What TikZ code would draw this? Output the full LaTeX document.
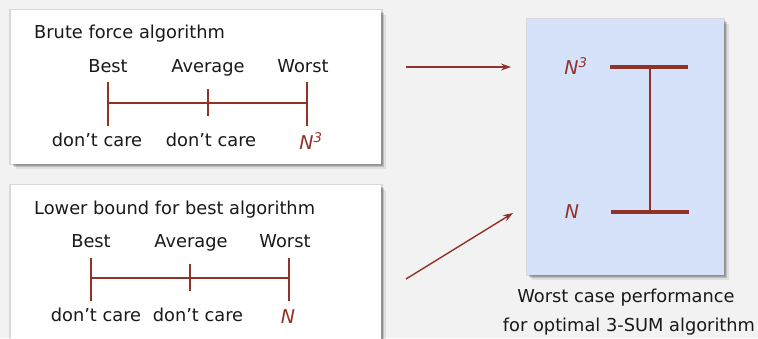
\documentclass[tikz,border=0pt]{standalone}
\usepackage{fontspec}
\setmainfont{DejaVu Sans}
\usetikzlibrary{arrows.meta,shadows}
\definecolor{bgc}{RGB}{242,242,242}
\definecolor{brick}{RGB}{145,50,40}
\definecolor{paleblue}{RGB}{214,226,250}
\tikzset{
  softshadow/.style={
    drop shadow={shadow xshift=0pt, shadow yshift=0pt, opacity=0.10, fill=black, shadow scale=1.01},
    drop shadow={shadow xshift=1.5pt, shadow yshift=-1.5pt, opacity=0.15, fill=black},
    drop shadow={shadow xshift=3pt, shadow yshift=-3pt, opacity=0.15, fill=black},
    drop shadow={shadow xshift=4.5pt, shadow yshift=-4.5pt, opacity=0.08, fill=black}},
  panel/.style={fill=white, draw=none, softshadow},
  bluepanel/.style={fill=paleblue, draw=none, softshadow},
  lbl/.style={font=\fontsize{17.8}{21}\selectfont, inner sep=0pt, text=black!90},
  head/.style={lbl, anchor=base},
  val/.style={font=\fontsize{19}{22}\selectfont\itshape, inner sep=0pt, text=brick},
  bar/.style={draw=brick, line width=2pt},
  thickbar/.style={draw=brick, line width=4pt},
  pointer/.style={draw=brick, line width=1.4pt, -{Stealth[length=10pt,width=7pt]}}
}
\begin{document}
\begin{tikzpicture}[x=1pt,y=-1pt]
\useasboundingbox (0,0) rectangle (758,338);
\fill[bgc] (0,0) rectangle (758,338);
\clip (0,0) rectangle (758,338);
% panels
\path[panel] (11,10) rectangle (381,164);
\path[panel] (11,185) rectangle (381,360);
\path[bluepanel] (527,19) rectangle (724,275);

% top panel
\node[lbl, anchor=west] (t1) at (34,34) {Brute force algorithm};
\node[head] (b1) at (108,72) {Best};
\node[head] (a1) at (208,72) {Average};
\node[head] (w1) at (303,72) {Worst};
\coordinate (l1t) at (108,82); \coordinate (l1b) at (108,126);
\coordinate (m1t) at (208,89); \coordinate (m1b) at (208,116);
\coordinate (r1t) at (307,82); \coordinate (r1b) at (307,126);
\coordinate (l1) at (108,103); \coordinate (r1) at (307,103);
\draw[bar] (l1t) -- (l1b);
\draw[bar] (m1t) -- (m1b);
\draw[bar] (r1t) -- (r1b);
\draw[bar] (l1) -- (r1);
\node[lbl] (d1a) at (97,140) {don’t care};
\node[lbl] (d1b) at (211,140) {don’t care};
\node[val] (n1) at (311,141) {N\textsuperscript{3}};

% bottom panel
\node[lbl, anchor=west] (t2) at (34,210) {Lower bound for best algorithm};
\node[head] (b2) at (91,247) {Best};
\node[head] (a2) at (191,247) {Average};
\node[head] (w2) at (285,247) {Worst};
\coordinate (l2t) at (91,258); \coordinate (l2b) at (91,301);
\coordinate (m2t) at (190,264); \coordinate (m2b) at (190,291);
\coordinate (r2t) at (289,258); \coordinate (r2b) at (289,301);
\coordinate (l2) at (91,278); \coordinate (r2) at (289,278);
\draw[bar] (l2t) -- (l2b);
\draw[bar] (m2t) -- (m2b);
\draw[bar] (r2t) -- (r2b);
\draw[bar] (l2) -- (r2);
\node[lbl] (d2a) at (96,315) {don’t care};
\node[lbl] (d2b) at (198,315) {don’t care};
\node[val] (n2) at (288,317) {N};

% arrows
\coordinate (s1) at (406,67); \coordinate (e1) at (511,67);
\coordinate (s2) at (406,279); \coordinate (e2) at (513,213);
\draw[pointer] (s1) -- (e1);
\draw[pointer] (s2) -- (e2);

% right panel
\node[val] (hi) at (576,66) {N\textsuperscript{3}};
\node[val] (lo) at (572,212) {N};
\coordinate (hl) at (610,67); \coordinate (hr) at (688,67);
\coordinate (ll) at (611,212); \coordinate (lr) at (689,212);
\coordinate (vt) at (650,67); \coordinate (vb) at (650,212);
\draw[thickbar] (hl) -- (hr);
\draw[thickbar] (ll) -- (lr);
\draw[bar] (vt) -- (vb);
\node[lbl] (c1) at (626,298) {Worst case performance};
\node[lbl] (c2) at (629,327) {for optimal 3-SUM algorithm};
\end{tikzpicture}
\end{document}
